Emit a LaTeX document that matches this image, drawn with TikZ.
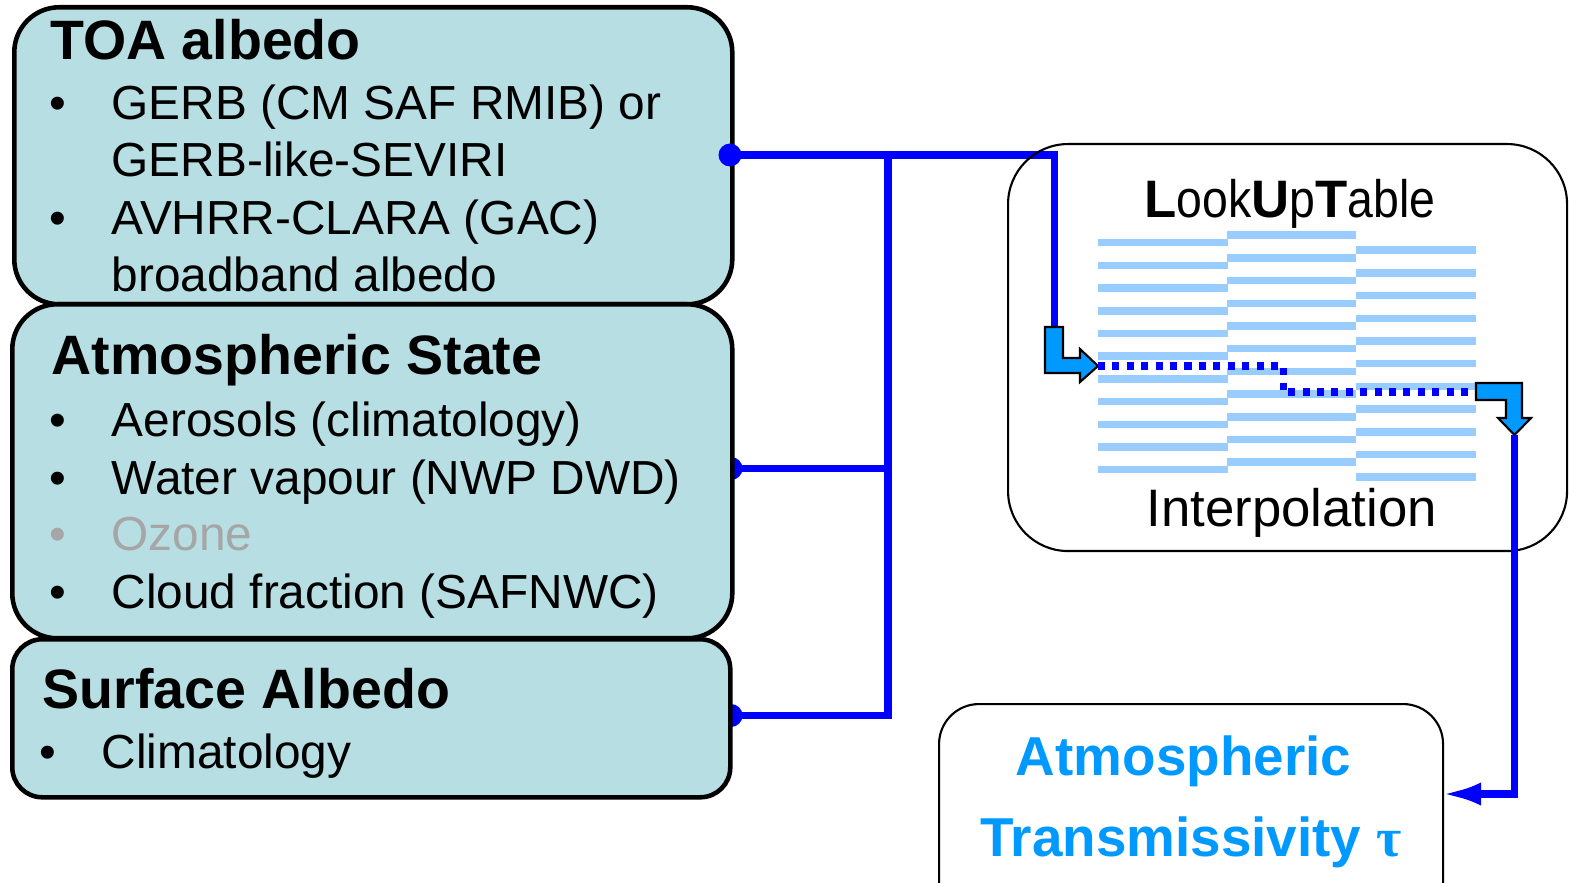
\documentclass[tikz,border=0pt]{standalone}
\usepackage{fontspec}
\usepackage{graphicx}
\setmainfont{Liberation Sans}
\newfontfamily\taufont{Liberation Serif}
\usetikzlibrary{arrows.meta, positioning}
\definecolor{boxfill}{RGB}{183,222,226}
\definecolor{barblue}{RGB}{153,204,255}
\definecolor{arrowblue}{RGB}{0,153,255}
\definecolor{linkblue}{RGB}{0,0,255}
\definecolor{ozonegray}{RGB}{166,166,166}
\newcommand{\lutfont}{\fontsize{15}{18}\selectfont}

\begin{document}
\begin{tikzpicture}[x=0.1mm, y=-0.1mm,
    inbox/.style={draw=black, line width=1.3pt, fill=boxfill, rounded corners=4.5mm, anchor=north west, inner sep=0pt},
    thinbox/.style={draw=black, line width=0.6pt, rounded corners=6mm, anchor=north west, inner sep=0pt},
    heading/.style={anchor=base west, inner sep=0pt, font=\fontsize{15.8}{18}\selectfont\bfseries},
    item/.style={anchor=base west, inner sep=0pt, font=\fontsize{13.6}{16}\selectfont},
    bulletmark/.style={anchor=base, inner sep=0pt, font=\fontsize{13.6}{16}\selectfont},
    result/.style={anchor=base, inner sep=0pt, text=arrowblue, font=\fontsize{15.6}{18}\selectfont\bfseries},
    link/.style={draw=linkblue, line width=2pt},
    dot/.style={circle, fill=linkblue, minimum size=2.3mm, inner sep=0pt},
    bentarrow/.style={fill=arrowblue, draw=black, line width=0.6pt}
]
    \useasboundingbox (0,0) rectangle (1569,883);
    \clip (0,0) rectangle (1569,883);

    % dots and bus behind the input boxes
    \node[dot] (atmdot) at (731,468.5) {};
    \node[dot] (sfcdot) at (731,715.5) {};
    \coordinate (busup) at (888,155);
    \coordinate (lutin) at (1054,327);
    \coordinate (lutout) at (1514.5,435);
    \coordinate (tauin) at (1442,794);
    \draw[link] (busup) |- (sfcdot.center);
    \draw[link] (atmdot.center) -- (atmdot.center -| busup);

    % input boxes
    \node[inbox, minimum width=71.8mm, minimum height=29.7mm] (toa) at (12,5) {};
    \node[inbox, minimum width=72mm, minimum height=33.4mm] (atm) at (10,302) {};
    \node[inbox, rounded corners=3mm, minimum width=71.8mm, minimum height=15.8mm] (sfc) at (10,637) {};

    \node[dot] (toadot) at (730,155) {};
    \draw[link] (toadot.center) -| (lutin);

    % TOA albedo
    \node[heading] (toahead) at (49.5,60) {TOA albedo};
    \node[bulletmark] (toab1) at (57.5,120) {•};
    \node[item] (toa1) at (111,120) {GERB (CM SAF RMIB) or};
    \node[item] (toa2) at (111,177) {GERB-like-SEVIRI};
    \node[bulletmark] (toab2) at (57.5,235) {•};
    \node[item] (toa3) at (111,235) {AVHRR-CLARA (GAC)};
    \node[item] (toa4) at (111,292) {broadband albedo};

    % Atmospheric state
    \node[heading] (atmhead) at (51,375) {Atmospheric State};
    \node[bulletmark] (atmb1) at (57.5,437) {•};
    \node[item] (atm1) at (111,437) {Aerosols (climatology)};
    \node[bulletmark] (atmb2) at (57.5,494) {•};
    \node[item] (atm2) at (111,494) {Water vapour (NWP DWD)};
    \node[bulletmark, text=ozonegray] (atmb3) at (57.5,550) {•};
    \node[item, text=ozonegray] (atm3) at (111,550) {Ozone};
    \node[bulletmark] (atmb4) at (57.5,608) {•};
    \node[item] (atm4) at (111,608) {Cloud fraction (SAFNWC)};

    % Surface albedo
    \node[heading] (sfchead) at (42,708) {Surface Albedo};
    \node[bulletmark] (sfcb1) at (48,768) {•};
    \node[item] (sfc1) at (101,768) {Climatology};

    % look-up table
    \node[thinbox, minimum width=55.9mm, minimum height=40.7mm] (lut) at (1007,143) {};
    \node[anchor=base west, inner sep=0pt, font=\lutfont] (luthead) at (1144,218)
        {\textbf{L}\scalebox{0.88}[1]{ook}\textbf{U}\scalebox{0.88}[1]{p}\textbf{T}\scalebox{0.88}[1]{able}};
    \node[anchor=base west, inner sep=0pt, font=\lutfont] (lutfoot) at (1146,527) {Interpolation};
    \foreach \i in {0,...,10} {
        \fill[barblue] (1098,{239+22.7*\i}) rectangle (1227.5,{246.5+22.7*\i});
        \fill[barblue] (1227,{231.5+22.7*\i}) rectangle (1355.5,{239+22.7*\i});
        \fill[barblue] (1355.5,{246.5+22.7*\i}) rectangle (1476,{254+22.7*\i});
    }
    \draw[bentarrow] (1045,327) -- (1063,327) -- (1063,358) -- (1080,358) -- (1080,349)
        -- (1098,366) -- (1080,382) -- (1080,373) -- (1045,373) -- cycle;
    \draw[linkblue, line width=2pt, dash pattern=on 2pt off 2.1pt] (1098,366) -- (1283,366) -- (1283,392) -- (1476,392);
    \draw[bentarrow] (1476,383) -- (1522,383) -- (1522,418) -- (1531,418) -- (1514.5,435)
        -- (1498,418) -- (1506,418) -- (1506,400) -- (1476,400) -- cycle;

    % result
    \node[thinbox, rounded corners=4mm, minimum width=50.4mm, minimum height=22mm] (tau) at (938,703) {};
    \node[result] (tau1) at (1183.5,775) {Atmospheric};
    \node[result] (tau2) at (1191,856) {Transmissivity {\taufont τ}};
    \draw[link, -{Latex[length=3.9mm, width=2.3mm]}] (lutout) |- (tauin);
\end{tikzpicture}
\end{document}
